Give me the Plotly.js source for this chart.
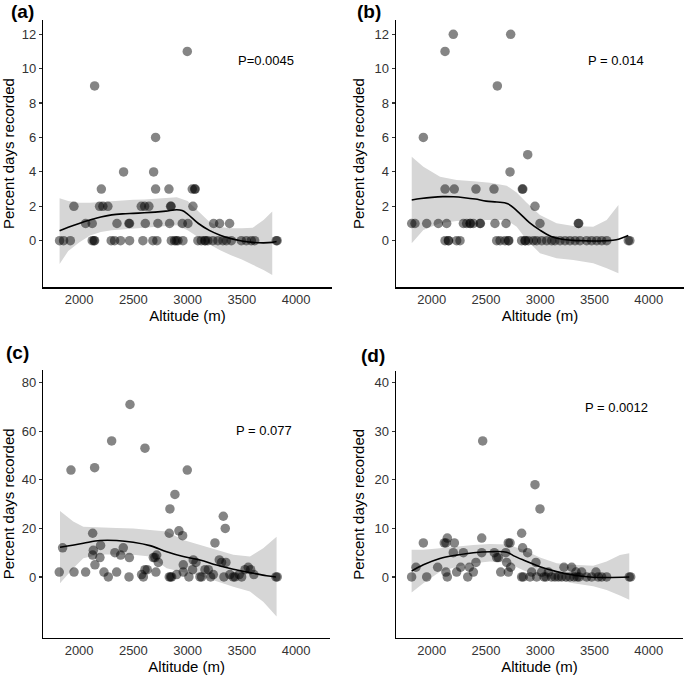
<!DOCTYPE html>
<html><head><meta charset="utf-8">
<script src="https://cdn.plot.ly/plotly-3.0.1.min.js"></script>
<style>html,body{margin:0;padding:0;background:#fff}#chart{width:685px;height:676px}</style>
</head><body><div id="chart"></div>
<script>
// ---------- Panel (a) ----------
const altA = [1820,1857,1919,2121,2137,2143,2296,2327,2382,2465,2588,2680,2717,2850,2880,2895,2911,2957,3095,3126,3157,3165,3187,3233,3279,3325,3357,3403,3495,3541,3587,3618,3817,3825,
  2060,2121,2349,2459,2465,2610,2726,2834,2951,3003,3240,3295,3387,
  1952,2189,2219,2265,2573,2604,2643,2843,2848,3049,
  2205,2705,2828,3043,3065,3070,
  2410,2687, 2705, 2143, 2997];
const pctA = [0,0,0,0,0,0,0,0,0,0,0,0,0,0,0,0,0,0,0,0,0,0,0,0,0,0,0,0,0,0,0,0,0,0,
  1,1,1,1,1,1,1,1,1,1,1,1,1,
  2,2,2,2,2,2,2,2,2,2,
  3,3,3,3,3,3,
  4,4, 6, 9, 11];
const fitXA = [1820,1900,2000,2100,2200,2300,2400,2500,2600,2700,2800,2900,2950,3000,3100,3200,3300,3400,3500,3600,3700,3780,3820];
const fitYA = [0.58,0.78,1.0,1.2,1.38,1.5,1.56,1.59,1.62,1.66,1.72,1.8,1.75,1.55,1.0,0.6,0.32,0.12,-0.02,-0.1,-0.13,-0.1,-0.05];
const bandXA = [1820,1900,2000,2100,2200,2300,2400,2500,2600,2700,2800,2900,3000,3100,3200,3300,3400,3500,3600,3700,3780];
const upperA = [2.46,2.3,2.2,2.2,2.25,2.3,2.35,2.38,2.4,2.45,2.5,2.52,2.3,1.7,1.1,0.8,0.72,0.72,0.75,1.2,1.7];
const lowerA = [-1.35,-0.6,-0.1,0.3,0.5,0.6,0.65,0.7,0.75,0.8,0.85,0.9,0.6,0.2,-0.2,-0.55,-0.85,-1.1,-1.4,-1.7,-2.0];

// ---------- Panel (b) ----------
const altB = [2122,2152,2155,2229,2260,2598,2629,2675,2705,2710,2828,2859,2862,2890,2936,2966,3013,3059,3105,3135,3182,3228,3274,3320,3366,3427,3473,3520,3566,3612,3811,3825,
  1815,1845,1953,2060,2137,2291,2321,2352,2356,2383,2444,2448,2582,2684,2997,3350,3354,
  2951, 2122,2207,2407,2573,2834,2839, 2721, 2884, 1922, 2604, 2122, 2198,2727];
const pctB = [0,0,0,0,0,0,0,0,0,0,0,0,0,0,0,0,0,0,0,0,0,0,0,0,0,0,0,0,0,0,0,0,
  1,1,1,1,1,1,1,1,1,1,1,1,1,1,1,1,1,
  2, 3,3,3,3,3,3, 4, 5, 6, 9, 11, 12,12];
const fitXB = [1815,1900,2000,2100,2200,2300,2400,2500,2600,2700,2800,2900,3000,3100,3200,3300,3400,3500,3600,3700,3811];
const fitYB = [2.37,2.45,2.52,2.56,2.55,2.5,2.42,2.3,2.25,2.15,1.65,1.05,0.6,0.25,0.08,0.02,0.0,-0.02,0.0,0.05,0.3];
const bandXB = [1815,1922,2076,2229,2383,2536,2690,2782,2875,2997,3150,3304,3488,3612,3720];
const upperB = [4.88,4.3,3.72,3.53,3.45,3.37,3.2,2.8,2.2,1.49,1.01,0.85,0.81,1.2,2.08];
const lowerB = [-0.15,0.62,1.01,1.15,1.2,1.2,1.2,0.81,0.04,-0.73,-1.02,-1.12,-1.31,-1.6,-1.9];

// ---------- Panel (c) ----------
const altC = [1817,1848,1925,1953,2060,2125,2125,2131,2143,2146,2198,2192,2229,2269,2300,2330,2346,2383,2407,2463,2460,2469,2576,2592,2607,2607,2628,2684,2699,2715,2730,2708,2831,2843,2853,2837,2831,2883,2899,2920,2954,2960,2960,2997,3012,3046,3052,3077,3114,3129,3160,3191,3212,3237,3252,3292,3313,3329,3335,3347,3353,3390,3421,3436,3476,3498,3529,3559,3581,3611,3814,3826];
const pctC = [2,12,44,2,2,18,9,11,45,5,13,8,2,0,56,10,2,9,12,8,0,71,1,0,53,3,3,8,8,9,6,2,0,0,0,28,18,34,1,19,17,5,2,44,0,3,7,6,0,0,3,3,0,1,14,7,6,25,0,20,6,1,0,0,1,0,3,4,3,1,0,0];
const fitXC = [1824,2039,2192,2346,2499,2653,2807,2960,3114,3267,3421,3575,3728,3814];
const fitYC = [12.2,13.9,15.0,15.0,14.3,12.9,10.4,8.4,7.0,4.9,3.2,1.8,0.5,0.0];
const bandXC = [1824,1946,2039,2192,2346,2499,2653,2807,2960,3114,3267,3421,3575,3697,3820];
const upperC = [27.2,22.8,20.7,20.3,20.2,20.0,19.5,18.7,15.2,13.2,11.1,9.1,8.4,11.8,16.6];
const lowerC = [-2.6,3.6,7.7,9.3,9.3,9.1,8.4,3.6,1.9,0.5,-1.9,-4.0,-6.0,-10.2,-16.3];

// ---------- Panel (d) ----------
const altD = [1814,1854,1922,1953,2054,2115,2130,2143,2130,2143,2198,2208,2229,2266,2291,2331,2346,2383,2407,2460,2460,2469,2576,2598,2613,2635,2681,2690,2705,2721,2705,2727,2828,2837,2828,2843,2883,2905,2920,2951,2960,2966,2997,3012,3034,3052,3074,3104,3135,3166,3197,3218,3237,3273,3289,3310,3329,3341,3359,3381,3427,3473,3513,3534,3565,3611,3820,3833];
const pctD = [0,2,7,0,2,7,7,8,1,0,5,7,1,2,5,0,2,1,3,8,5,28,5,4,4,1,5,3,7,7,1,2,9,6,0,0,5,0,1,19,3,0,14,1,0,0,1,0,0,0,0,2,0,0,2,0,1,0,0,1,0,0,1,0,0,0,0,0];
const fitXD = [1814,1922,2075,2229,2383,2536,2690,2751,2843,2997,3151,3304,3458,3611,3820];
const fitYD = [1.2,2.5,3.8,4.5,5.0,5.2,5.1,4.4,3.5,2.1,1.1,0.4,0.0,-0.1,0.0];
const bandXD = [1814,1922,2075,2229,2383,2536,2690,2843,2997,3151,3304,3488,3611,3734,3820];
const upperD = [5.6,5.6,5.9,6.3,6.6,6.8,6.7,5.6,4.0,2.8,2.5,2.3,3.2,4.5,4.9];
const lowerD = [-3.2,-1.3,1.1,2.1,2.8,3.2,3.0,1.4,0.1,-0.6,-1.3,-1.9,-2.7,-3.8,-4.7];

// ---------- ticks & labels ----------
const xTicks = [2000,2500,3000,3500,4000];
const yTicksAB = [0,2,4,6,8,10,12];
const yTicksC = [0,20,40,60,80];
const yTicksD = [0,10,20,30,40];
const panelLabels = ['(a)','(b)','(c)','(d)'];
const pLabels = ['P=0.0045','P = 0.014','P = 0.077','P = 0.0012'];
const xTitle = 'Altitude (m)';
const yTitle = 'Percent days recorded';

const W = 685, H = 676;
const FONT = 'Liberation Sans, Arial, sans-serif';

function panelTraces(alt, pct, fx, fy, bx, up, lo, n) {
  const xs = n === 1 ? 'x' : 'x' + n, ys = n === 1 ? 'y' : 'y' + n;
  return [
    {type:'scatter', mode:'lines', x: bx.concat(bx.slice().reverse()), y: up.concat(lo.slice().reverse()),
     fill:'toself', fillcolor:'#d6d6d6', line:{width:0}, hoverinfo:'skip', xaxis:xs, yaxis:ys, showlegend:false},
    {type:'scatter', mode:'markers', x: alt, y: pct, marker:{size:9.5, color:'rgba(0,0,0,0.48)', line:{width:0}},
     xaxis:xs, yaxis:ys, showlegend:false},
    {type:'scatter', mode:'lines', x: fx, y: fy, line:{color:'#000', width:1.6, shape:'spline'},
     xaxis:xs, yaxis:ys, showlegend:false}
  ];
}

const data = [].concat(
  panelTraces(altA, pctA, fitXA, fitYA, bandXA, upperA, lowerA, 1),
  panelTraces(altB, pctB, fitXB, fitYB, bandXB, upperB, lowerB, 2),
  panelTraces(altC, pctC, fitXC, fitYC, bandXC, upperC, lowerC, 3),
  panelTraces(altD, pctD, fitXD, fitYD, bandXD, upperD, lowerD, 4)
);

// pixel boxes: [left, right, top, bottom]
const boxes = [[43.3,331.7,20,287.3],[396,684,20,287.3],[43.3,330,370,637.7],[396,683,371,637.7]];
const yRanges = [[-2.71,12.83],[-2.71,12.83],[-25,85.2],[-12.5,42.4]];
const yTicks = [yTicksAB, yTicksAB, yTicksC, yTicksD];
const pxPerM = 0.1085;

const layout = {width:W, height:H, margin:{l:0,r:0,t:0,b:0}, paper_bgcolor:'#fff', plot_bgcolor:'rgba(0,0,0,0)',
  font:{family:FONT, color:'#000'}, showlegend:false, annotations:[]};

boxes.forEach((b, i) => {
  const k = i === 0 ? '' : String(i + 1);
  const xr = [1670, 1670 + (b[1] - b[0]) / pxPerM];
  layout['xaxis' + k] = {domain:[b[0]/W, b[1]/W], range:xr, anchor:'y' + k,
    showline:true, linecolor:'#000', linewidth:1.5, ticks:'', tickvals:xTicks, showgrid:false, zeroline:false,
    tickfont:{size:13, color:'#333', family:FONT}, fixedrange:true,
    title:{text:xTitle, font:{size:15, color:'#000', family:FONT}, standoff:4}};
  layout['yaxis' + k] = {domain:[1 - b[3]/H, 1 - b[2]/H], range:yRanges[i], anchor:'x' + k,
    showline:true, linecolor:'#000', linewidth:1.5, ticks:'outside', ticklen:3, tickwidth:1.2, tickcolor:'#333',
    tickvals:yTicks[i], showgrid:false, zeroline:false, fixedrange:true,
    tickfont:{size:13, color:'#333', family:FONT},
    title:{text:yTitle, font:{size:15, color:'#000', family:FONT}, standoff:6}};
});

const labelPos = [[22,11],[369,11],[17,352],[373,355]];
const pPos = [[265.8,60],[615.5,60],[263.5,430],[616,407]];
labelPos.forEach((p, i) => layout.annotations.push({xref:'paper', yref:'paper', x:p[0]/W, y:1-p[1]/H,
  text:'<b>' + panelLabels[i] + '</b>', showarrow:false, font:{size:19, family:FONT, color:'#000'}, xanchor:'center', yanchor:'middle'}));
pPos.forEach((p, i) => layout.annotations.push({xref:'paper', yref:'paper', x:p[0]/W, y:1-p[1]/H,
  text:pLabels[i], showarrow:false, font:{size:13, family:FONT, color:'#000'}, xanchor:'center', yanchor:'middle'}));

Plotly.newPlot('chart', data, layout, {displayModeBar:false, staticPlot:true});
</script></body></html>
